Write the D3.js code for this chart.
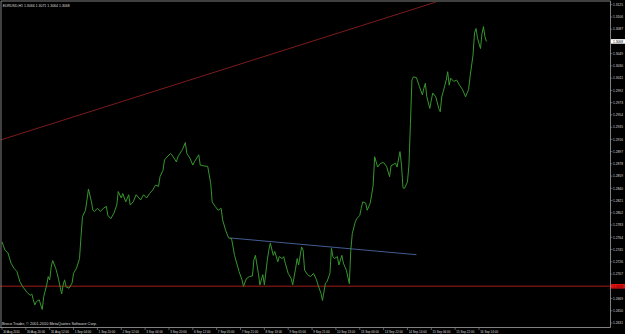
<!DOCTYPE html>
<html>
<head>
<meta charset="utf-8">
<script src="https://cdn.jsdelivr.net/npm/d3@7"></script>
<style>
  html, body { margin: 0; padding: 0; background: #000; overflow: hidden; }
  svg { display: block; }
</style>
</head>
<body>
<script>
'use strict';

// hourly closes (bar index from the first bar)
const bars = [0,2,4,6,8,10,12,14,17,19,20,21,22,23,25,26,27,28,30,31,32,33,34,36,37,38,40,41,42,43,45,47,48,50,52,53,54,56,57,58,
  60,61,62,64,66,68,70,71,73,75,77,78,80,81,83,85,86,88,90,93,95,97,99,101,103,105,106,108,109,110,113,114,117,118,121,123,124,126,128,129,
  132,133,135,138,140,141,143,145,147,148,150,152,154,156,159,161,162,164,166,168,169,170,172,173,175,176,178,179,180,182,183,185,186,188,189,190,
  192,194,195,197,198,199,201,202,203,205,207,209,211,212,214,215,217,218,220,221,222,223,225,226,228,229,231,233,234,235,237,238,240,241,242,244,
  245,247,248,249,250,252,254,256,258,260,261,264,265,267,268,269,270,272,273,274,275,276,278,280,282,283,284,285,287,288,289,291,293,294,295,296,
  298,299,300,301,303,305,307,309,311,312,313,314,316,317,318,319,321,322,323,324,325];
const closes = [1.2757,1.2744,1.2740,1.2724,1.2716,1.2711,1.2695,1.2687,1.2678,1.2674,1.2676,1.2667,1.2659,1.2664,1.2667,1.2659,1.2652,1.2672,1.2690,1.2703,
  1.2698,1.2718,1.2728,1.2716,1.2708,1.2698,1.2676,1.2690,1.2698,1.2687,1.2685,1.2693,1.2708,1.2716,1.2731,1.2765,1.2796,1.2806,1.2822,1.2839,
  1.2819,1.2806,1.2804,1.2809,1.2804,1.2809,1.2812,1.2798,1.2793,1.2801,1.2814,1.2835,1.2825,1.2832,1.2819,1.2830,1.2814,1.2819,1.2830,1.2822,
  1.2830,1.2825,1.2832,1.2837,1.2845,1.2843,1.2858,1.2868,1.2884,1.2887,1.2894,1.2892,1.2881,1.2889,1.2900,1.2911,1.2894,1.2887,1.2876,1.2881,
  1.2892,1.2876,1.2875,1.2874,1.2848,1.2819,1.2812,1.2806,1.2809,1.2791,1.2775,1.2763,1.2762,1.2736,1.2711,1.2698,1.2688,1.2700,1.2703,1.2704,
  1.2729,1.2736,1.2708,1.2690,1.2706,1.2690,1.2729,1.2744,1.2755,1.2736,1.2742,1.2726,1.2734,1.2731,1.2734,1.2724,1.2708,1.2700,1.2690,1.2716,
  1.2731,1.2721,1.2749,1.2744,1.2713,1.2706,1.2703,1.2708,1.2698,1.2690,1.2677,1.2666,1.2693,1.2695,1.2708,1.2747,1.2734,1.2731,1.2734,1.2721,
  1.2736,1.2724,1.2713,1.2692,1.2744,1.2770,1.2788,1.2793,1.2798,1.2809,1.2819,1.2817,1.2806,1.2817,1.2830,1.2845,1.2889,1.2873,1.2879,1.2880,
  1.2874,1.2858,1.2875,1.2879,1.2873,1.2897,1.2876,1.2841,1.2840,1.2850,1.2876,1.2941,1.3008,1.3013,1.3012,1.2998,1.2985,1.2995,1.3003,1.2982,
  1.2964,1.2977,1.2988,1.2982,1.2964,1.2959,1.2982,1.2990,1.3008,1.3021,1.3000,1.3011,1.3006,1.3008,1.3000,1.2993,1.2982,1.2988,1.2993,1.3013,
  1.3047,1.3081,1.3088,1.3073,1.3057,1.3080,1.3091,1.3075,1.3068];

const timeLabels = ["30 Aug 2010","30 Aug 20:00","31 Aug 12:00","1 Sep 04:00","1 Sep 20:00","2 Sep 12:00","3 Sep 04:00",
  "3 Sep 20:00","6 Sep 12:00","7 Sep 05:00","7 Sep 21:00","8 Sep 13:00","9 Sep 05:00","9 Sep 21:00","10 Sep 13:00",
  "13 Sep 06:00","13 Sep 22:00","14 Sep 14:00","15 Sep 06:00","15 Sep 22:00","16 Sep 14:00"];
const priceLabels = ["1.3125","1.3106","1.3087","1.3068","1.3049","1.3030","1.3011","1.2992","1.2973","1.2954","1.2935",
  "1.2916","1.2897","1.2878","1.2859","1.2840","1.2821","1.2802","1.2783","1.2764","1.2745","1.2726","1.2707","1.2688",
  "1.2669","1.2650","1.2631"];

// drawn objects: support, falling trendline, rising trendline
const supportLevel = 1.2688;
const blueLine = [[153, 1.2763], [278, 1.2737]];
const redLine = [[-1, 1.2915], [291, 1.3129]];
const titleText = "EURUSD,H1  1.3066 1.3071 1.3064 1.3068";
const copyright = "Broco Trader, \u00a9 2001-2010 MetaQuotes Software Corp.";

(function() {
    const width = 625, height = 334;
    const axisX = 610.5, axisY = 327.5;
    const font = "'Liberation Sans', Arial, sans-serif";
    const fs = '3.4px';

    let svg = d3.select('body').append('svg')
        .attr('width', width)
        .attr('height', height)
        .style('background', '#000');

    let xScale = d3.scaleLinear().domain([0, 320]).range([2, 479]);
    let yScale = d3.scaleLinear()
        .domain([+priceLabels[priceLabels.length - 1], +priceLabels[0]])
        .range([323, 4.7]);

    svg.append('clipPath').attr('id', 'plot')
        .append('rect')
        .attr('x', 0).attr('y', 2)
        .attr('width', axisX).attr('height', axisY - 2);

    let plot = svg.append('g').attr('clip-path', 'url(#plot)');

    // support line
    plot.append('line')
        .attr('x1', 0).attr('x2', axisX)
        .attr('y1', yScale(supportLevel)).attr('y2', yScale(supportLevel))
        .attr('stroke', '#6c1212')
        .attr('stroke-width', 1.5);

    let seg = d3.line()
        .x(d => xScale(d[0]))
        .y(d => yScale(d[1]));

    plot.append('path').datum(redLine)
        .attr('d', seg)
        .attr('fill', 'none')
        .attr('stroke', '#8c1e1e')
        .attr('stroke-width', 0.9);

    plot.append('path').datum(blueLine)
        .attr('d', seg)
        .attr('fill', 'none')
        .attr('stroke', '#4a66a4')
        .attr('stroke-width', 0.9);

    // price line
    let series = bars.map((b, i) => [b, closes[i]]);
    plot.append('path').datum(series)
        .attr('d', seg)
        .attr('fill', 'none')
        .attr('stroke', '#37962e')
        .attr('stroke-width', 1)
        .attr('stroke-linejoin', 'round');

    // frame
    svg.append('path')
        .attr('d', 'M1,' + axisY + 'V1H' + axisX + 'V' + axisY + 'H0')
        .attr('fill', 'none')
        .attr('stroke', '#808080')
        .attr('stroke-width', 1);

    // price scale
    let yTicks = svg.append('g');
    priceLabels.forEach(function(p) {
        let y = yScale(+p);
        yTicks.append('line')
            .attr('x1', axisX).attr('x2', axisX + 2)
            .attr('y1', y).attr('y2', y)
            .attr('stroke', '#999').attr('stroke-width', 0.6);
        yTicks.append('text')
            .attr('x', 613).attr('y', y + 1.3)
            .attr('fill', '#ddd')
            .attr('font-size', fs)
            .attr('font-family', font)
            .attr('textLength', 10)
            .attr('lengthAdjust', 'spacingAndGlyphs')
            .text(p);
    });

    // time scale
    let xTicks = svg.append('g');
    timeLabels.forEach(function(t, i) {
        let x = xScale(i * 16);
        xTicks.append('line')
            .attr('x1', x).attr('x2', x)
            .attr('y1', axisY).attr('y2', axisY + 2.5)
            .attr('stroke', '#999').attr('stroke-width', 0.6);
        xTicks.append('text')
            .attr('x', x + 1.2).attr('y', 332.5)
            .attr('fill', '#ddd')
            .attr('font-size', fs)
            .attr('font-family', font)
            .attr('textLength', t.length * 1.5)
            .attr('lengthAdjust', 'spacingAndGlyphs')
            .text(t);
    });

    // boxes on the price scale
    function priceBox(value, fill, color) {
        let y = yScale(value);
        svg.append('rect')
            .attr('x', axisX + 0.5).attr('y', y - 2.3)
            .attr('width', width - axisX).attr('height', 4.6)
            .attr('fill', fill);
        svg.append('text')
            .attr('x', 613).attr('y', y + 1.3)
            .attr('fill', color)
            .attr('font-size', fs)
            .attr('font-family', font)
            .attr('textLength', 10)
            .attr('lengthAdjust', 'spacingAndGlyphs')
            .text(value.toFixed(4));
    }
    priceBox(closes[closes.length - 1], '#ffffff', '#000');
    priceBox(supportLevel, '#e01010', '#600');

    svg.append('text')
        .attr('x', 2.7).attr('y', 7)
        .attr('fill', '#ddd')
        .attr('font-size', fs)
        .attr('font-family', font)
        .attr('textLength', 67)
        .attr('lengthAdjust', 'spacingAndGlyphs')
        .text(titleText);

    svg.append('text')
        .attr('x', 2).attr('y', 325.3)
        .attr('fill', '#ddd')
        .attr('font-size', fs)
        .attr('font-family', font)
        .attr('textLength', 95)
        .attr('lengthAdjust', 'spacingAndGlyphs')
        .text(copyright);
})();
</script>
</body>
</html>
